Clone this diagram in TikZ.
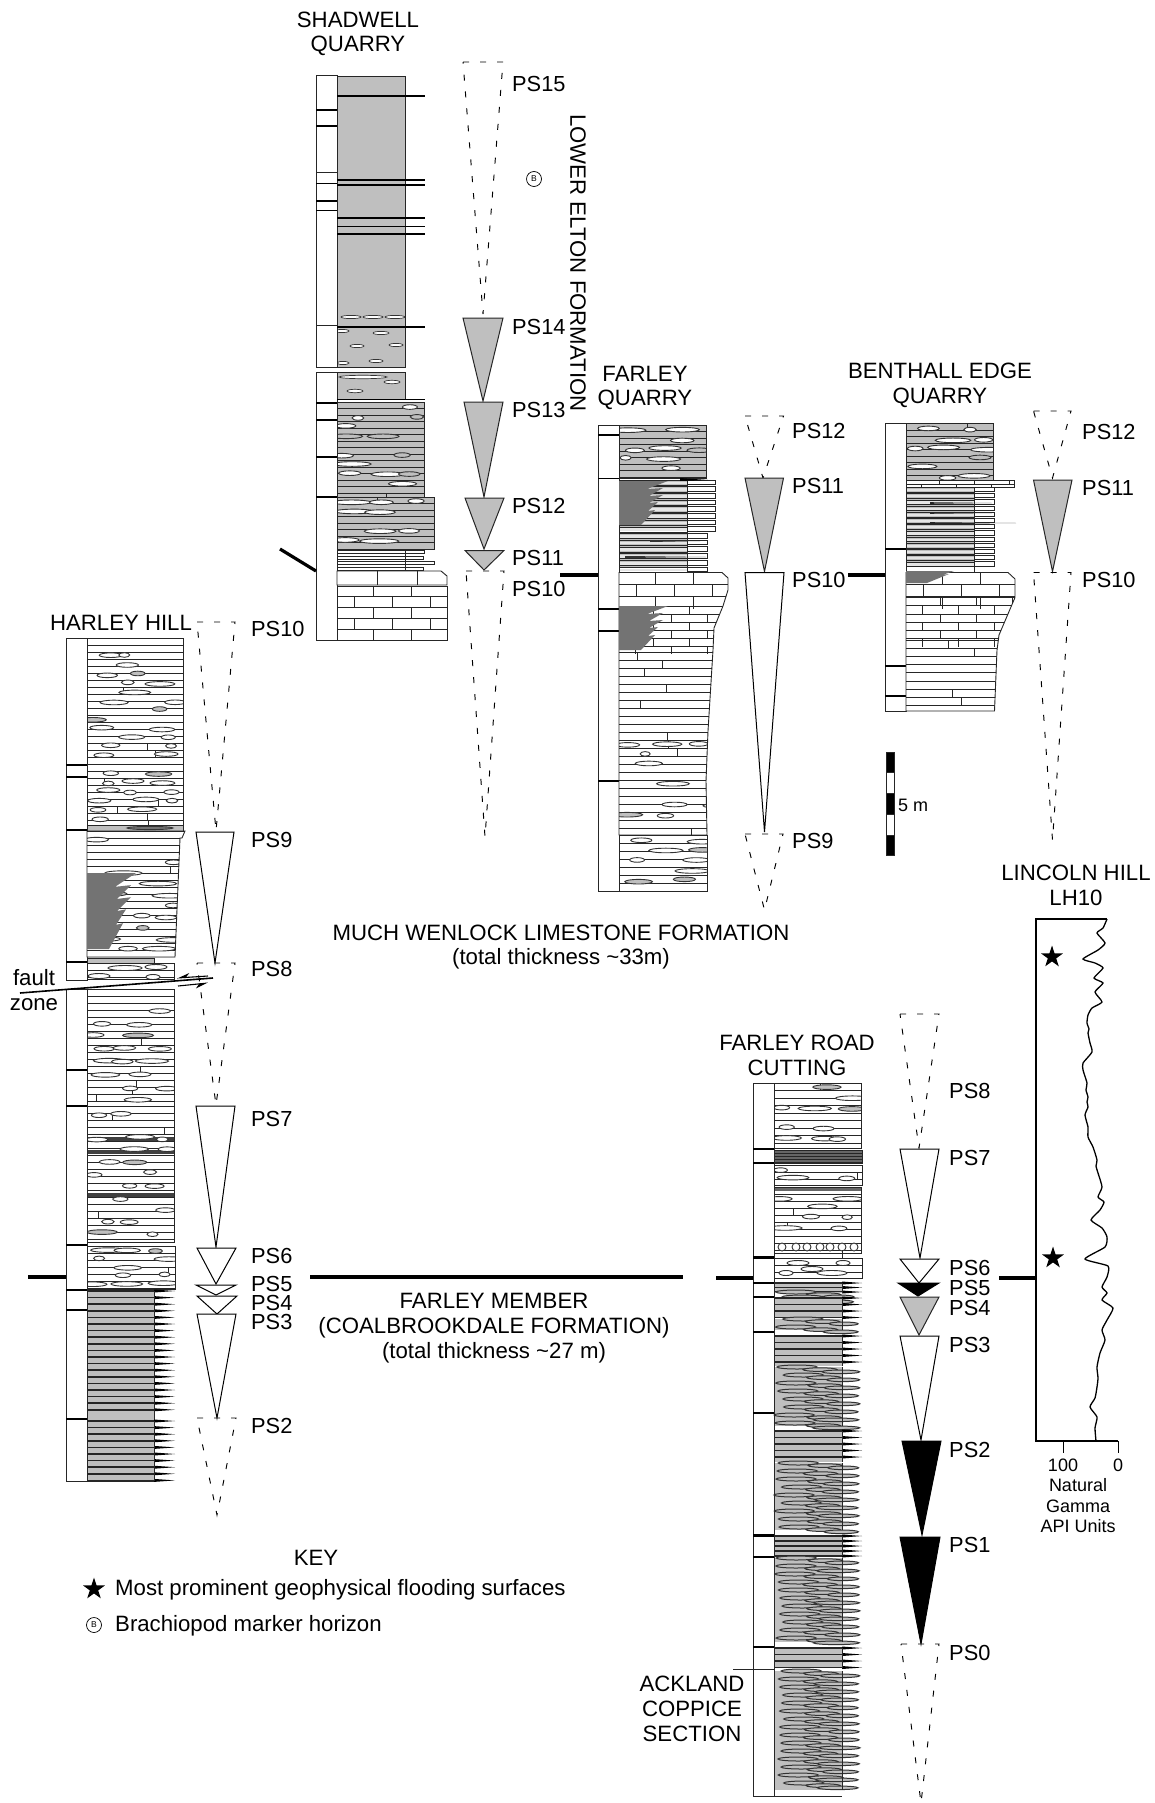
\documentclass[tikz,border=0pt]{standalone}
\usepackage{fontspec}
\setmainfont{Liberation Sans}
\usetikzlibrary{arrows.meta, shapes.geometric}

\definecolor{rockgray}{gray}{0.75}
\definecolor{toothgray}{gray}{0.45}

\tikzset{
  rockline/.style={line width=0.9pt, black!85},
  bedline/.style={line width=0.75pt, black!85},
  barline/.style={line width=1pt, black!85},
  tickline/.style={line width=1.7pt, black},
  datum/.style={line width=3.2pt, black},
  nodule/.style={line width=0.9pt, black!80, fill=white},
  seqwhite/.style={line width=1pt, black, fill=white},
  seqgray/.style={line width=1pt, black!85, fill=rockgray},
  seqblack/.style={line width=1pt, black, fill=black},
  seqdash/.style={line width=0.95pt, black, dash pattern=on 6pt off 11pt},
  pslabel/.style={anchor=west, inner sep=0pt, font=\fontsize{21.8}{24}\selectfont},
  title/.style={align=center, inner sep=0pt, font=\fontsize{22.2}{24.7}\selectfont},
  keytext/.style={anchor=west, inner sep=0pt, font=\fontsize{22.2}{24}\selectfont},
  small/.style={align=center, inner sep=0pt, font=\fontsize{18}{20.5}\selectfont},
  starmark/.style={star, star points=5, star point ratio=2.6, fill=black, inner sep=0pt, minimum size=23pt},
  bmark/.style={circle, draw, line width=0.7pt, inner sep=0pt, minimum size=15pt, font=\fontsize{8.5}{9}\selectfont},
}

% fill a polygon, clip its contents, then outline it
\newcommand{\litbox}[3][white]{
  \fill[#1] #2;
  \begin{scope}
    \clip #2;
    #3
  \end{scope}
  \draw[rockline] #2;
}
% thin beds, with a share of them broken by a joint
\newcommand{\beds}[6]{
  \pgfmathsetmacro{\ynext}{#3+#5}
  \foreach \ybed in {#3,\ynext,...,#4} {
    \draw[bedline] (#1,\ybed) -- (#2,\ybed);
    \pgfmathsetmacro{\rr}{rnd}
    \ifdim\rr pt<#6pt
      \pgfmathsetmacro{\xj}{#1+rnd*(#2-#1)}
      \draw[bedline] (\xj,\ybed) -- ++(0,#5);
    \fi
  }
}
% limestone courses
\newcommand{\bricks}[6]{
  \pgfmathsetmacro{\ynext}{#3+#5}
  \foreach \ybed [count=\rowi] in {#3,\ynext,...,#4} {
    \draw[bedline] (#1,\ybed) -- (#2,\ybed);
    \pgfmathsetmacro{\xstart}{#1+#6*(0.45+0.5*mod(\rowi,2))}
    \pgfmathsetmacro{\xnext}{\xstart+#6}
    \foreach \xj in {\xstart,\xnext,...,#2} {
      \draw[bedline] (\xj,\ybed) -- ++(0,#5);
    }
  }
}
% rows of nodules
\newcommand{\nodrows}[6]{
  \pgfmathsetmacro{\ynext}{#3+#5}
  \foreach \ybed in {#3,\ynext,...,#4} {
    \foreach \cell in {0,1,2} {
      \pgfmathsetmacro{\rr}{rnd}
      \ifdim\rr pt<0.6pt
        \pgfmathsetmacro{\nx}{#1+(#2-#1)*(\cell+0.15+0.7*rnd)/3}
        \pgfmathsetmacro{\nlen}{5+rnd*#6}
        \pgfmathsetmacro{\ny}{\ybed+rnd*#5*0.3}
        \pgfmathsetmacro{\nshade}{rnd>0.88 ? 25 : 0}
        \draw[nodule, fill=black!\nshade] (\nx,\ny) ellipse[x radius=\nlen, y radius=2.3];
      \fi
    }
  }
}
% beds that are gray up to the spine and white past it
\newcommand{\spinebeds}[6]{
  \fill[rockgray] (#1,#4) rectangle (#2,#5);
  \pgfmathsetmacro{\ynext}{#4+#6}
  \foreach \ybed in {#4,\ynext,...,#5} {
    \fill[rockgray!40] (#1,\ybed+1.5) rectangle (#2,\ybed+#6-2.5);
    \draw[bedline] (#1,\ybed) -- (#2,\ybed) (#1,\ybed+#6-1.5) -- (#2,\ybed+#6-1.5);
    \draw[rockline, fill=white] (#2,\ybed) rectangle (#3,\ybed+#6-2);
  }
}
% dense shale, spikes past the spine
\newcommand{\shale}[6]{
  \fill[rockgray] (#1,#4) rectangle (#2,#5);
  \pgfmathsetmacro{\ynext}{#4+#6}
  \foreach \ybed in {#4,\ynext,...,#5} {
    \draw[line width=1.5pt, black!85] (#1,\ybed) -- (#2,\ybed);
    \fill[black] (#2,\ybed-1.5) -- (#3,\ybed) -- (#2,\ybed+1.5) -- cycle;
  }
  \draw[rockline] (#2,#4) -- (#2,#5);
}
% lenses of shale, staggered
\newcommand{\lenses}[6]{
  \fill[rockgray] (#1,#4) rectangle (#2,#5);
  \pgfmathsetmacro{\ynext}{#4+#6}
  \foreach \ybed [count=\rowi] in {#4,\ynext,...,#5} {
    \pgfmathsetmacro{\lensa}{#1+20+rnd*10}
    \pgfmathsetmacro{\lensb}{#1+46+rnd*6}
    \pgfmathsetmacro{\lensc}{#2-6+rnd*8}
    \pgfmathsetmacro{\lenso}{#3-\lensc+2*rnd}
    \draw[line width=1pt, black!80, fill=rockgray] (\lensa,\ybed) ellipse[x radius=20, y radius=2];
    \draw[line width=1pt, black!80, fill=rockgray] (\lensb,\ybed+2.6) ellipse[x radius=17, y radius=1.8];
    \draw[line width=1pt, black!80, fill=rockgray] (\lensc,\ybed+4.8) ellipse[x radius=\lenso, y radius=1.8];
  }
  \draw[rockline] (#2,#4) -- (#2,#5);
}
% dark patch with a toothed edge
\newcommand{\sawteeth}[4]{
  \fill[toothgray, shift={(#1,#2)}, xscale=#3, yscale=#4]
  (0,0) -- (49,0) -- (28,8) -- (44,7) -- (30,15) -- (44,14) -- (30,22) -- (39,21) -- (29,30) -- (36,29) -- (22,44) -- (0,44) -- cycle;
}
% sequence triangle
\newcommand{\seqtri}[6][seqwhite]{
  \draw[#1] (#2,#5) -- (#3,#5) -- (#4,#6) -- cycle;
}

\begin{document}
\begin{tikzpicture}[x=1pt, y=-1pt]
\useasboundingbox (0,0) rectangle (1155,1803);
\pgfmathsetseed{4217}

% ---- Shadwell Quarry ----
\node[title] (shad-name) at (358,34) {SHADWELL\\QUARRY};

% scale column
\draw[barline] (316,76) rectangle (337,367) (316,372.5) rectangle (337,640);
\foreach \ytick in {110,126,183.5,201,210.5,403,420,457,497} {
  \draw[tickline, line width=1.4pt] (316,\ytick) -- (337,\ytick);
}
\foreach \ytick in {172.5,325} {
  \draw[barline] (316,\ytick) -- (337,\ytick);
}

% lithology
\litbox[rockgray]{(337,76) rectangle (405,367)}{
  \foreach \nx/\ny/\nlen in {351/317/10,373/317/10,395/317/10,342/331/7,381/333/8,357/346/7,396/345/7,343/363/6,376/361/7} {
    \draw[nodule, line width=0.7pt] (\nx,\ny) ellipse[x radius=\nlen, y radius=1.6];
  }
}
\litbox[rockgray]{(337,372.5) rectangle (405,399)}{
  \foreach \nx/\ny/\nlen in {363/377/24,392/382/8,355/391/8} {
    \draw[nodule, line width=0.7pt] (\nx,\ny) ellipse[x radius=\nlen, y radius=1.7];
  }
}
\foreach \ybed in {96,180,185,218,226.5,234,327,399.5} {
  \draw[barline, line width=1.1pt, black] (337,\ybed) -- (425,\ybed);
}
\litbox[rockgray]{(337,402) rectangle (424,497)}{
  \beds{337}{424}{402}{497}{6.5}{0.12}
  \nodrows{337}{424}{406}{494}{9.5}{14}
}
\litbox[rockgray]{(337,497) rectangle (434,549)}{
  \beds{337}{434}{497}{549}{6.5}{0.1}
  \nodrows{337}{434}{501}{546}{9.5}{16}
}
\foreach \ybed/\xend in {550/424,556/423,561/434,567/423} {
  \draw[rockline, fill=white] (337,\ybed) rectangle (\xend,\ybed+3.5);
}
\draw[bedline] (405,550) -- (405,570);
\litbox{(337,571) -- (441,571) -- (447,576) -- (447,585) -- (337,585) -- cycle}{
  \foreach \xj in {377,417} {\draw[bedline] (\xj,571) -- (\xj,585);}
}
\litbox{(337,586) rectangle (447,640)}{
  \bricks{337}{447}{586}{640}{10.8}{38}
}

% sequences
\seqtri[seqdash]{463}{503}{483}{62}{314}
\seqtri[seqgray]{463}{503}{483}{318}{401}
\seqtri[seqgray]{464}{503}{484}{402}{497}
\seqtri[seqgray]{465}{504}{484}{498}{549}
\seqtri[seqgray]{465}{504}{484}{550.5}{570}
\seqtri[seqdash]{466}{504}{485}{571}{837}
\foreach \lab/\ypos in {PS15/84,PS14/327,PS13/410,PS12/506,PS11/558,PS10/589} {
  \node[pslabel] (shad-\lab) at (512,\ypos) {\lab};
}
\node[bmark] (shad-brach) at (534,179) {B};
\node[title, rotate=-90] (lower-elton) at (578,263) {LOWER ELTON FORMATION};
\draw[datum] (280,549) -- (316,571);

% ---- Farley Quarry ----
\node[title] (farq-name) at (645,388) {FARLEY\\QUARRY};

\draw[barline, fill=white] (598,425) rectangle (619,891);
\foreach \ytick in {435,478.6,609,631,781} {
  \draw[tickline, line width=1.4pt] (598,\ytick) -- (619,\ytick);
}

\litbox[rockgray]{(619,425) rectangle (706,478)}{
  \beds{619}{706}{425}{478}{6.5}{0.1}
  \nodrows{619}{706}{429}{475}{9.5}{14}
}
\spinebeds{619}{687}{715}{480}{527}{6.7}
\spinebeds{619}{687}{707}{533.5}{568}{6.7}
\draw[rockline] (619,480) -- (619,572.5) (687,480) -- (687,572.5);
\fill[black] (680,478) -- (708,480) -- (680,481) -- cycle;
\fill[black!80] (650,540) -- (700,541) -- (650,542) -- cycle;
\fill[black!80] (625,556) -- (706,557) -- (625,558) -- cycle;
\sawteeth{619}{481}{1}{1}
\litbox{(619,572.5) -- (722,572.5) -- (728,578) -- (728,590) -- (723,606) -- (714,628) -- (713,650) -- (708,731) -- (706,781) -- (707,835) -- (619,835) -- cycle}{
  \bricks{619}{729}{572.5}{606}{12}{38}
  \bricks{619}{729}{606}{652}{8}{36}
  \beds{619}{729}{652}{740}{8}{0.55}
  \beds{619}{729}{740}{835}{8}{0.25}
  \nodrows{619}{729}{743}{830}{10}{13}
}
\sawteeth{619}{606}{1}{1}
\litbox{(619,835) rectangle (707,891)}{
  \beds{619}{708}{835}{891}{8}{0.25}
  \nodrows{619}{708}{839}{887}{10}{15}
}

\seqtri[seqdash]{745}{783.5}{763}{416}{478}
\seqtri[seqgray]{745}{783.5}{764.5}{478}{571.5}
\seqtri{745}{784}{764.5}{572.5}{832}
\seqtri[seqdash]{745}{783}{764.5}{834}{910}
\foreach \lab/\ypos in {PS12/431,PS11/486,PS10/580,PS9/841} {
  \node[pslabel] (farq-\lab) at (792,\ypos) {\lab};
}
\draw[datum] (560,575) -- (598,575);

% ---- Benthall Edge Quarry ----
\node[title] (bent-name) at (940,385) {BENTHALL EDGE\\QUARRY};

\draw[barline, fill=white] (885,423.5) rectangle (906,711);
\foreach \ytick in {549,666,696} {
  \draw[tickline, line width=1.4pt] (885,\ytick) -- (906,\ytick);
}

\litbox[rockgray]{(906,423.5) rectangle (993,480)}{
  \beds{906}{993}{423.5}{480}{6.5}{0.1}
  \nodrows{906}{993}{428}{476}{9.5}{14}
}
\litbox{(906,480) rectangle (1014,487.5)}{
  \bricks{906}{1014}{480}{487.5}{4}{35}
}
\spinebeds{906}{974}{994}{487.5}{567}{6.2}
\draw[rockline] (906,487.5) -- (906,572.5) (974,487.5) -- (974,572.5);
\foreach \ybed/\xend in {503/992,513/992,523/1016} {
  \fill[black!85] (930,\ybed-0.8) -- (\xend,\ybed) -- (930,\ybed+0.8) -- cycle;
}
\litbox{(906,572.5) -- (1008,572.5) -- (1015,579) -- (1015,597.5) -- (999,635) -- (997,650) -- (994.5,711) -- (906,711) -- cycle}{
  \bricks{906}{1015}{572.5}{597.5}{12}{38}
  \bricks{906}{1015}{597.5}{640}{8.2}{36}
  \beds{906}{1015}{640}{711}{8.2}{0.55}
}
\fill[toothgray] (906,571) -- (954,571) -- (942,575) -- (949,574) -- (927,583) -- (906,583) -- cycle;

\seqtri[seqdash]{1033.5}{1071}{1052.5}{411}{478}
\seqtri[seqgray]{1033.5}{1072}{1052.5}{480}{571.5}
\seqtri[seqdash]{1033.5}{1071}{1052.5}{572.5}{840}
\foreach \lab/\ypos in {PS12/432,PS11/487.5,PS10/580} {
  \node[pslabel] (bent-\lab) at (1082,\ypos) {\lab};
}
\draw[datum] (848,575) -- (885,575);

% 5 m bar
\foreach \ystart/\col in {752/black,772.7/white,793.4/black,814.1/white,834.8/black} {
  \draw[barline, line width=0.5pt, fill=\col] (886,\ystart) rectangle (894,\ystart+20.7);
}
\node[small, anchor=west] (bar-label) at (898,805) {5 m};

% ---- Harley Hill ----
\node[title] (harl-name) at (121,623) {HARLEY HILL};

\draw[barline, fill=white] (66,638) rectangle (87,980) (66,989) rectangle (87,1481);
\foreach \ytick in {765,777,830,962,1070,1106,1245,1290,1310,1419} {
  \draw[tickline, line width=1.4pt] (66,\ytick) -- (87,\ytick);
}

\litbox{(87,638) rectangle (183,825)}{
  \beds{87}{183}{638}{825}{7}{0.3}
  \nodrows{87}{183}{655}{822}{9}{11}
}
\litbox[rockgray]{(87,825) rectangle (183,831)}{
  \draw[nodule, fill=toothgray] (150,828) ellipse[x radius=23, y radius=1.6];
}
\litbox{(87,831) -- (185,831) -- (182,838) -- (180,838) -- (175,957) -- (87,957) -- cycle}{
  \beds{87}{185}{831}{957}{7}{0.15}
  \nodrows{87}{180}{838}{952}{11}{14}
}
\sawteeth{87}{873}{1}{1.73}
\litbox[rockgray]{(87,958) rectangle (154,963)}{}
\litbox{(87,963) rectangle (174,979)}{
  \beds{87}{174}{963}{979}{7}{0}
  \foreach \nx/\ny/\nlen in {125/968/17,156/967/11,99/976/11,153/977/7} {
    \draw[nodule] (\nx,\ny) ellipse[x radius=\nlen, y radius=2.5];
  }
}
\litbox{(87,989) rectangle (174,1106)}{
  \beds{87}{174}{989}{1106}{7}{0.3}
  \nodrows{87}{174}{995}{1100}{13}{12}
}
\litbox{(87,1106) rectangle (174,1242)}{
  \beds{87}{174}{1106}{1242}{7}{0.3}
  \foreach \ybed in {1139,1152,1195} {\fill[black!75] (87,\ybed-2) rectangle (174,\ybed+2);}
  \nodrows{87}{174}{1112}{1238}{12}{11}
}
\litbox{(87,1246) rectangle (175,1289)}{
  \beds{87}{175}{1246}{1289}{7}{0.2}
  \nodrows{87}{175}{1250}{1285}{8}{16}
}
\shale{87}{154}{175}{1291}{1412}{6.6}
\fill[rockgray] (87,1412) rectangle (154,1421);
\draw[rockline] (154,1412) -- (154,1421);
\shale{87}{154}{175}{1421}{1481}{6.6}
\draw[rockline] (87,1291) -- (87,1481) -- (154,1481);

\seqtri[seqdash]{197}{235}{216}{622}{831}
\seqtri{196}{234}{215}{832}{963}
\seqtri[seqdash]{197}{235}{216}{963}{1105}
\seqtri{196}{235}{216}{1106}{1247}
\seqtri{197}{236}{216}{1248}{1284}
\seqtri{196}{236}{216}{1285}{1295}
\seqtri{197}{237}{217}{1296}{1314}
\seqtri{197}{236}{217}{1314}{1418}
\seqtri[seqdash]{197}{236}{217}{1418}{1515}
\foreach \lab/\ypos in {PS10/629,PS9/840,PS8/969,PS7/1119,PS6/1256,PS5/1284,PS4/1303,PS3/1322,PS2/1426} {
  \node[pslabel] (harl-\lab) at (251,\ypos) {\lab};
}
\draw[datum] (28,1277) -- (66,1277);

% fault zone
\node[title] (fault-name) at (34,990) {fault\\zone};
\draw[line width=1.6pt, black] (20,993) -- (213,978);
\draw[line width=1.1pt, -{Stealth[harpoon, swap, length=11pt]}] (208,976) -- (177,978);
\draw[line width=1.1pt, -{Stealth[harpoon, swap, length=11pt]}] (178,986) -- (208,983);

% ---- Farley Road Cutting ----
\node[title] (road-name) at (797,1055) {FARLEY ROAD\\CUTTING};

\draw[barline, fill=white] (753,1083) rectangle (774,1796);
\foreach \ytick in {1149,1163,1283,1297,1332,1413,1557,1647} {
  \draw[tickline, line width=1.4pt] (753,\ytick) -- (774,\ytick);
}
\draw[tickline, line width=3pt] (753,1257) -- (774,1257);
\draw[tickline, line width=3pt] (753,1535) -- (774,1535);
\draw[barline] (733,1669) -- (774,1669);

\litbox{(774,1083) rectangle (861,1148)}{
  \beds{774}{861}{1083}{1148}{7.5}{0.3}
  \nodrows{774}{861}{1087}{1145}{10}{14}
}
\litbox{(774,1150) rectangle (862,1163)}{
  \fill[black!60] (774,1150) rectangle (862,1163);
  \beds{774}{862}{1150}{1163}{3}{0}
}
\litbox{(774,1165) rectangle (862,1185)}{
  \beds{774}{862}{1165}{1185}{7}{0.2}
  \nodrows{774}{862}{1168}{1182}{9}{12}
}
\litbox{(774,1187) rectangle (861,1253)}{
  \fill[black!60] (774,1187) rectangle (861,1191);
  \beds{774}{861}{1187}{1253}{7}{0.3}
  \nodrows{774}{861}{1196}{1235}{10}{13}
  \foreach \nx in {782,796,807,820,830,842,854} {
    \draw[nodule] (\nx,1247) circle (4);
  }
}
\draw[rockline] (774,1253) -- (861,1253);
\draw[bedline] (842,1250) -- (842,1262);
\litbox{(774,1258) rectangle (862,1278)}{
  \beds{774}{862}{1258}{1278}{7}{0.2}
  \foreach \nx/\ny/\nlen in {798/1263/11,812/1269/11,843/1263/7,786/1273/7,832/1273/15} {
    \draw[nodule] (\nx,\ny) ellipse[x radius=\nlen, y radius=2.5];
  }
}

% shale stack, top to bottom
\shale{774}{842}{862}{1283}{1292}{4.5}
\lenses{774}{842}{852}{1292}{1293}{5}
\shale{774}{842}{862}{1298}{1318}{6.5}
\lenses{774}{842}{858}{1319}{1330}{8}
\shale{774}{842}{862}{1336}{1366}{6.5}
\lenses{774}{842}{858}{1367}{1426}{8}
\shale{774}{842}{862}{1431}{1462}{6.5}
\lenses{774}{842}{858}{1463}{1530}{8}
\shale{774}{842}{862}{1536}{1556}{5}
\lenses{774}{842}{858}{1558}{1642}{8}
\shale{774}{842}{862}{1648}{1668}{6.5}
\lenses{774}{842}{858}{1671}{1790}{8}
\draw[rockline] (774,1283) -- (774,1796) -- (842,1796);

\seqtri[seqdash]{900}{939}{919}{1014}{1148}
\seqtri{900}{939}{920}{1149}{1258}
\seqtri{900}{939}{919}{1259}{1283}
\seqtri[seqblack]{898}{939}{918}{1283}{1296}
\seqtri[seqgray]{900}{939}{919}{1297}{1335}
\seqtri{900}{939}{921}{1336}{1440}
\seqtri[seqblack]{902}{941}{922}{1441}{1535}
\seqtri[seqblack]{900}{940}{921}{1537}{1644}
\seqtri[seqdash]{901}{939}{921}{1644}{1803}
\foreach \lab/\ypos in {PS8/1091,PS7/1158,PS6/1268,PS5/1288,PS4/1308,PS3/1345,PS2/1450,PS1/1545,PS0/1653} {
  \node[pslabel] (road-\lab) at (949,\ypos) {\lab};
}
\draw[datum] (716,1278) -- (753,1278);
\node[title] (ack-name) at (692,1709) {ACKLAND\\COPPICE\\SECTION};

% ---- Lincoln Hill gamma log ----
\node[title] (linc-name) at (1076,885) {LINCOLN HILL\\LH10};

\draw[line width=1.5pt] (1107,919) -- (1036,919) -- (1036,1441) -- (1118,1441);
\draw[line width=1pt] (1063,1441) -- (1063,1453) (1118,1441) -- (1118,1453);
\draw[line width=1.3pt] plot[smooth, tension=0.35] coordinates {
(1107,919) (1103,928) (1097,933) (1105,943) (1098,950) (1083,959) (1095,963) (1103,968)
(1094,978) (1103,983) (1095,992) (1102,1002) (1092,1008) (1088,1015) (1087,1023) (1089,1029)
(1088,1033) (1090,1043) (1092,1052) (1083,1063) (1083,1070) (1087,1083) (1086,1090) (1088,1097)
(1087,1102) (1088,1107) (1085,1115) (1088,1127) (1088,1137) (1093,1147) (1097,1160) (1096,1166)
(1098,1173) (1102,1187) (1098,1197) (1104,1202) (1100,1210) (1091,1220) (1102,1228) (1107,1237)
(1105,1247) (1085,1259) (1108,1266) (1107,1277) (1102,1287) (1107,1293) (1102,1300) (1113,1308)
(1107,1320) (1102,1330) (1105,1340) (1100,1353) (1097,1367) (1098,1378) (1097,1387) (1095,1398)
(1090,1407) (1097,1417) (1095,1428) (1096,1441)
};
\node[starmark] (linc-star-a) at (1052,957) {};
\node[starmark] (linc-star-b) at (1053,1258) {};
\draw[datum] (999,1278) -- (1036,1278);
\node[small] (tick-100) at (1063,1465) {100};
\node[small] (tick-0) at (1118,1465) {0};
\node[small] (gamma-name) at (1078,1506) {Natural\\Gamma\\API Units};

% ---- formations and key ----
\node[title] (wenlock) at (561,947) {MUCH WENLOCK LIMESTONE FORMATION\\(total thickness \textasciitilde33m)};
\draw[datum] (310,1277) -- (683,1277);
\node[title] (farley-mbr) at (494,1328) {FARLEY MEMBER\\(COALBROOKDALE FORMATION)\\(total thickness \textasciitilde27 m)};

\node[title] (key-name) at (316,1558) {KEY};
\node[starmark] (key-star) at (94,1589) {};
\node[keytext] (key-star-text) at (115,1590) {Most prominent geophysical flooding surfaces};
\node[bmark] (key-brach) at (94,1625) {B};
\node[keytext] (key-brach-text) at (115,1626) {Brachiopod marker horizon};

\end{tikzpicture}
\end{document}
